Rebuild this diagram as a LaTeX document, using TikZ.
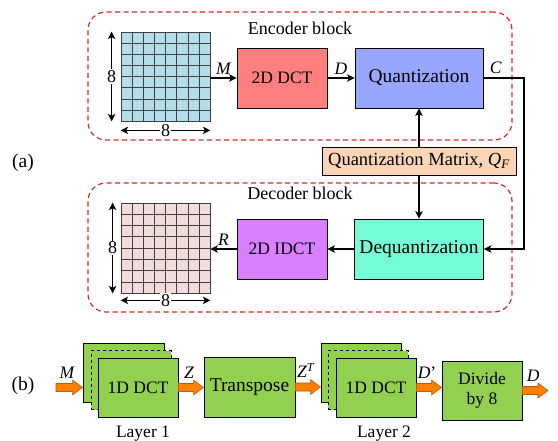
\documentclass[tikz,border=0pt]{standalone}
\usepackage{fontspec}
\setmainfont{Liberation Serif}
\usetikzlibrary{arrows.meta,calc}
\definecolor{gridblue}{HTML}{B3DDE8}
\definecolor{gridpink}{HTML}{F2DCDB}
\definecolor{dctred}{HTML}{FF7F7F}
\definecolor{quantblue}{HTML}{99A6FF}
\definecolor{qmorange}{HTML}{FBD5B5}
\definecolor{dequant}{HTML}{74FCD8}
\definecolor{idctpurple}{HTML}{D880FF}
\definecolor{bgreen}{HTML}{92D050}
\definecolor{barrowfill}{HTML}{FF8000}
\definecolor{barrowdraw}{HTML}{C05A00}
\definecolor{dashred}{HTML}{E02525}
\newcommand{\blockarrow}[3]{%
  \path[barrowsty] let \p1=(#1), \p2=(#2) in
    (\x1,\y1+4pt) -- (\x2-10pt,\y1+4pt) -- (\x2-10pt,\y1+7.5pt) -- (\x2,\y1)
    -- (\x2-10pt,\y1-7.5pt) -- (\x2-10pt,\y1-4pt) -- (\x1,\y1-4pt) -- cycle
    node[anchor=south, inner sep=0pt] at ({(\x1+\x2)/2-2pt},\y1+9pt) {#3};}
\begin{document}
\begin{tikzpicture}[x=1pt,y=-1pt,
  font=\fontsize{17.5}{19.5}\selectfont,
  fbig/.style={font=\fontsize{19.5}{21}\selectfont},
  fmid/.style={font=\fontsize{18}{20}\selectfont},
  fsmall/.style={font=\fontsize{17.5}{19.5}\selectfont},
  box/.style={draw=black, line width=0.9pt, inner sep=0pt, align=center},
  arr/.style={line width=1.1pt, -{Stealth[length=7.5pt,width=7.5pt,inset=2pt]}},
  darr/.style={line width=1.1pt, {Stealth[length=7.5pt,width=7.5pt,inset=2pt]}-{Stealth[length=7.5pt,width=7.5pt,inset=2pt]}},
  dashbox/.style={draw=dashred, line width=1.2pt, dash pattern=on 5pt off 3.5pt, rounded corners=18pt, inner sep=0pt, minimum width=424pt},
  gridbox/.style={draw=black!75, line width=0.7pt, inner sep=0pt, minimum width=89pt, minimum height=89pt},
  gridline/.style={draw=black!75, line width=0.7pt},
  lab/.style={font=\fontsize{17.5}{19.5}\selectfont\itshape},
  gbox/.style={box, fill=bgreen, minimum width=80pt, minimum height=59pt},
  barrowsty/.style={fill=barrowfill, draw=barrowdraw, line width=0.6pt, line join=miter},
  eight/.style={fill=white, inner sep=1pt, fmid}
]
\useasboundingbox (0,0) rectangle (558,440);

% ---------- (a) ----------
\node[fbig] (alab) at (23,163) {(a)};

\node[dashbox, minimum height=128pt] (enc) at (300,76) {};
\node[fmid] (enclab) at (300,28) {Encoder block};
\node[dashbox, minimum height=129pt] (dec) at (300,247.5) {};
\node[fmid] (declab) at (300,193) {Decoder block};

% blue grid
\node[gridbox, fill=gridblue] (gridA) at (165.5,76.5) {};
\foreach \i in {1,...,7}{
  \draw[gridline] ($(gridA.north west)!\i/8!(gridA.north east)$) -- ($(gridA.south west)!\i/8!(gridA.south east)$);
  \draw[gridline] ($(gridA.north west)!\i/8!(gridA.south west)$) -- ($(gridA.north east)!\i/8!(gridA.south east)$);
}
\draw[darr] ([xshift=-9pt]gridA.north west) -- node[eight]{8} ([xshift=-9pt]gridA.south west);
\draw[darr] ([yshift=-9pt]gridA.south west) -- node[eight]{8} ([yshift=-9pt]gridA.south east);

% pink grid
\node[gridbox, fill=gridpink, minimum height=90pt] (gridB) at (165.5,248) {};
\foreach \i in {1,...,7}{
  \draw[gridline] ($(gridB.north west)!\i/8!(gridB.north east)$) -- ($(gridB.south west)!\i/8!(gridB.south east)$);
  \draw[gridline] ($(gridB.north west)!\i/8!(gridB.south west)$) -- ($(gridB.north east)!\i/8!(gridB.south east)$);
}
\draw[darr] ([xshift=-8pt]gridB.north west) -- node[eight]{8} ([xshift=-8pt]gridB.south west);
\draw[darr] ([yshift=-7pt]gridB.south west) -- node[eight]{8} ([yshift=-7pt]gridB.south east);

% blocks
\node[box, fsmall, fill=dctred, minimum width=90pt, minimum height=60pt] (dct) at (282,78) {2D DCT};
\node[box, fbig, fill=quantblue, minimum width=128pt, minimum height=60pt] (quant) at (419,78) {Quantization};
\node[box, font=\fontsize{18.5}{20}\selectfont, fill=qmorange, minimum width=194pt, minimum height=28pt] (qm) at (419,161) {Quantization Matrix, \textit{Q}\textsubscript{\textit{F}}};
\node[box, fbig, fill=dequant, minimum width=129pt, minimum height=60pt] (deq) at (419,249) {Dequantization};
\node[box, fsmall, fill=idctpurple, minimum width=90pt, minimum height=60pt] (idct) at (282,249) {2D IDCT};

\coordinate (cturn) at (524,78);

\draw[arr] (gridA.east |- dct.west) -- node[lab, above]{M} (dct.west);
\draw[arr] (dct.east) -- node[lab, above]{D} (quant.west);
\draw[arr] (quant.east) -- node[lab, above, pos=0.3]{C} (cturn) |- (deq.east);
\draw[arr] (qm.north) -- (quant.south);
\draw[arr] (qm.south) -- (deq.north);
\draw[arr] (deq.west) -- (idct.east);
\draw[arr] (idct.west) -- node[lab, above]{R} (gridB.east |- idct.west);

% ---------- (b) ----------
\node[fbig] (blab) at (23,386) {(b)};

\node[gbox, minimum width=81pt] (l1back) at (123.5,372.5) {};
\node[gbox, dashed] (l1mid) at (131,380) {};
\node[gbox, fsmall] (l1) at (138,387.5) {1D DCT};
\node[box, fbig, fill=bgreen, minimum width=91pt, minimum height=60pt] (tr) at (249.5,387) {Transpose};
\node[gbox] (l2back) at (361,372.5) {};
\node[gbox, dashed] (l2mid) at (368,380) {};
\node[gbox, fsmall] (l2) at (376,387.5) {1D DCT};
\node[gbox, fsmall] (div) at (482,390.5) {Divide\\by 8};

\node[anchor=base] (lay1) at (143,437) {Layer 1};
\node[anchor=base] (lay2) at (384,437) {Layer 2};

\coordinate (mstart) at (56,387.5);
\coordinate (dend) at (548,390.5);

\blockarrow{mstart}{l1back.west}{\textit{M}}
\blockarrow{l1.east}{tr.west}{\textit{Z}}
\blockarrow{tr.east}{l2back.west}{\textit{Z}\textsuperscript{\textit{T}}}
\blockarrow{l2.east}{div.west}{\textit{D}’}
\blockarrow{div.east}{dend}{\textit{D}}
\end{tikzpicture}
\end{document}
